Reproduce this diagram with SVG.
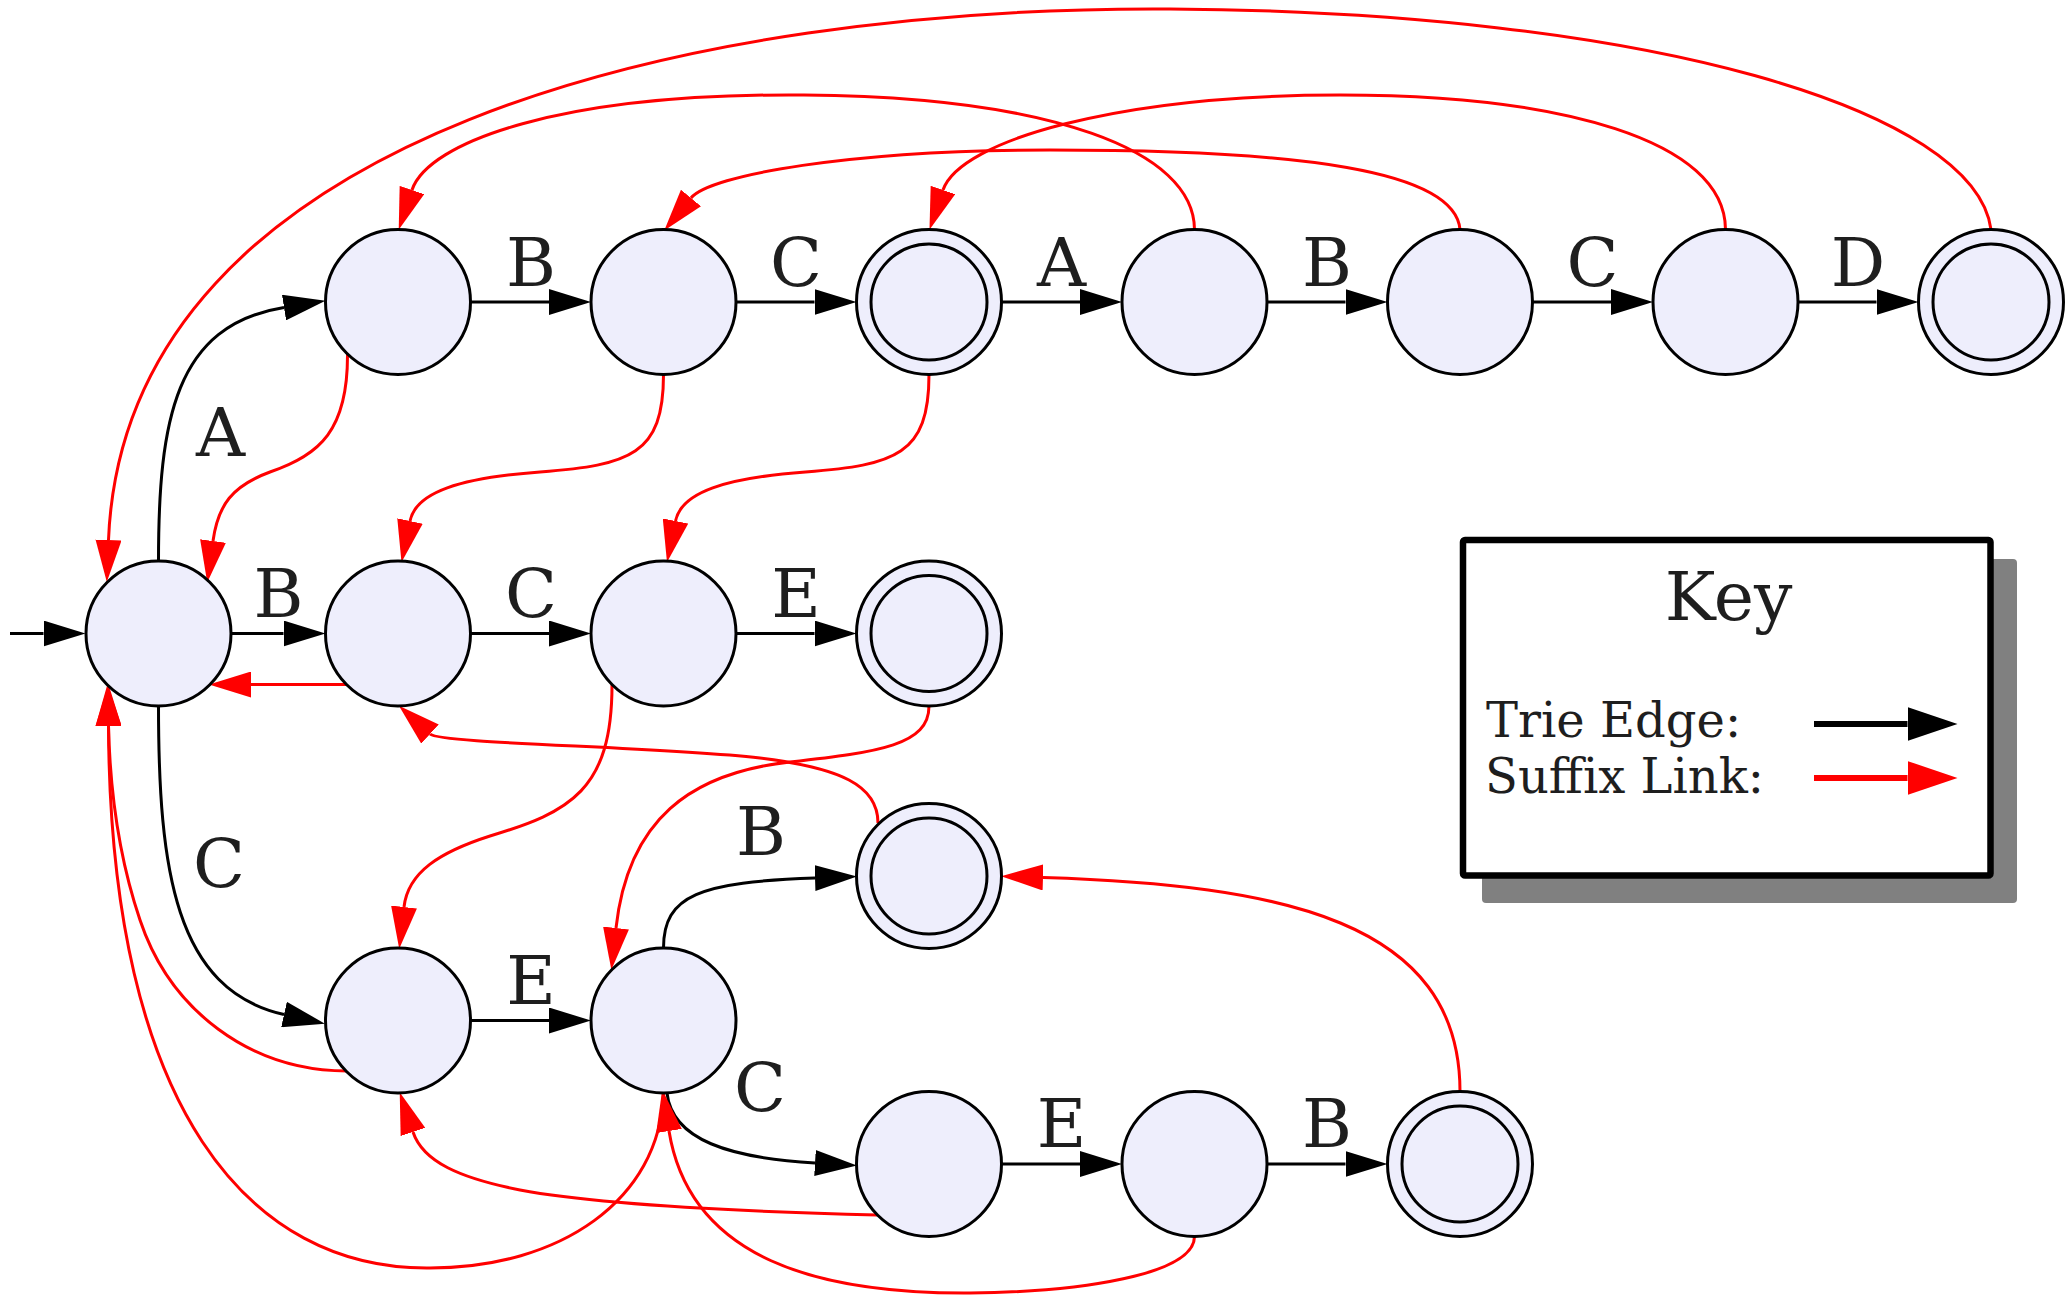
<svg xmlns="http://www.w3.org/2000/svg" width="2065" height="1296" viewBox="0 0 2065 1296">
<defs>
<style>
.nd{fill:#eeeefc;stroke:#000;stroke-width:3}
.in{fill:none;stroke:#000;stroke-width:3}
.tr{fill:none;stroke:#000;stroke-width:3;marker-end:url(#ab)}
.sf{fill:none;stroke:#f00;stroke-width:3;marker-end:url(#ar)}
.lb{font-family:"DejaVu Serif","Liberation Serif",serif;font-size:68px;text-anchor:middle;fill:#1e1e1e}
.kt{font-family:"DejaVu Serif","Liberation Serif",serif;font-size:48px;fill:#1e1e1e}
</style>
<marker id="ab" viewBox="0 0 42 26" refX="0" refY="13" markerWidth="42" markerHeight="26" markerUnits="userSpaceOnUse" orient="auto"><path d="M0,0L42,13L0,26z" fill="#000"/></marker>
<marker id="ar" viewBox="0 0 42 26" refX="0" refY="13" markerWidth="42" markerHeight="26" markerUnits="userSpaceOnUse" orient="auto"><path d="M0,0L42,13L0,26z" fill="#f00"/></marker>
<marker id="kb" viewBox="0 0 50 34" refX="0" refY="17" markerWidth="50" markerHeight="34" markerUnits="userSpaceOnUse" orient="auto"><path d="M0,0L50,17L0,34z" fill="#000"/></marker>
<marker id="kr" viewBox="0 0 50 34" refX="0" refY="17" markerWidth="50" markerHeight="34" markerUnits="userSpaceOnUse" orient="auto"><path d="M0,0L50,17L0,34z" fill="#f00"/></marker>
</defs>
<rect width="2065" height="1296" fill="#fff"/>

<g id="connectors">
<!-- trie edges -->
<path class="tr" d="M10,633.5H43.5"/>
<path class="tr" d="M231,633.5H283.5"/>
<path class="tr" d="M470.5,633.5H549"/>
<path class="tr" d="M736,633.5H814.5"/>
<path class="tr" d="M470.5,302H549"/>
<path class="tr" d="M736,302H814.5"/>
<path class="tr" d="M1001.5,302H1080"/>
<path class="tr" d="M1267,302H1345.5"/>
<path class="tr" d="M1532.5,302H1611"/>
<path class="tr" d="M1798,302H1876.5"/>
<path class="tr" d="M470.5,1020.5H549"/>
<path class="tr" d="M1001.5,1164H1080"/>
<path class="tr" d="M1267,1164H1345.5"/>
<path class="tr" d="M158.5,561C158.5,420 175,325 284,307.5"/>
<path class="tr" d="M158.5,706C158.5,870 175,990 284,1014.5"/>
<path class="tr" d="M663.5,948C663.5,895 700,882 815,878"/>
<path class="tr" d="M667,1093C672,1140 730,1158 815,1163"/>
<!-- suffix links -->
<path class="sf" d="M347.5,354C348,430 320,455 270,472C232,486 218,505 213,541"/>
<path class="sf" d="M1991,229.5C1975,110 1650,12 1170,9C700,6 125,130 108.5,540"/>
<path class="sf" d="M1194.5,229.5C1194,150 1050,97 804,95C560,93 428,142 412,190"/>
<path class="sf" d="M1460,229.5C1455,170 1300,150 1050,150C850,150 710,175 691,198"/>
<path class="sf" d="M1725.5,229.5C1725,140 1560,95 1340,95C1120,95 960,140 943,190"/>
<path class="sf" d="M663.5,374.5C663.5,455 630,465 540,472C460,478 416,492 410,521"/>
<path class="sf" d="M929,374.5C929,455 895.5,465 805.5,472C725.5,478 681.5,492 675.5,521"/>
<path class="sf" d="M346.5,684.5H251"/>
<path class="sf" d="M612,685C612,790 570,812 490,836C440,852 408,872 404,907"/>
<path class="sf" d="M929,706C929,745 880,752 790,762C690,773 628,820 616,928"/>
<path class="sf" d="M878,823C878,785 840,768 760,758C650,746 441,744 430,734"/>
<path class="sf" d="M1460,1091.5C1460,920 1280,885 1043,877.5"/>
<path class="sf" d="M877,1215C760,1212 600,1205 520,1190C460,1178 423,1162 413,1132"/>
<path class="sf" d="M1194.5,1236.5C1194,1275 1080,1292 970,1293C820,1294 690,1260 669,1131"/>
<path class="sf" d="M663.5,1093C660,1200 560,1268 430,1268C250,1270 110,1110 108.5,726"/>
<path class="sf" d="M347,1071C250,1071 170,1010 140,920C118,855 110,790 108.5,726"/>
</g>

<g id="labels">
<text class="lb" x="531" y="286">B</text>
<text class="lb" x="796" y="286">C</text>
<text class="lb" x="1061.5" y="286">A</text>
<text class="lb" x="1327" y="286">B</text>
<text class="lb" x="1592.5" y="286">C</text>
<text class="lb" x="1858" y="286">D</text>
<text class="lb" x="278.5" y="617">B</text>
<text class="lb" x="531" y="617">C</text>
<text class="lb" x="796" y="617">E</text>
<text class="lb" x="220.5" y="456">A</text>
<text class="lb" x="219" y="887">C</text>
<text class="lb" x="761" y="855">B</text>
<text class="lb" x="531" y="1004">E</text>
<text class="lb" x="760" y="1111">C</text>
<text class="lb" x="1061.5" y="1147">E</text>
<text class="lb" x="1327" y="1147">B</text>
</g>

<g id="n_root"><circle class="nd" cx="158.5" cy="633.5" r="72.5"/></g>
<g id="n_A"><circle class="nd" cx="398" cy="302" r="72.5"/></g>
<g id="n_AB"><circle class="nd" cx="663.5" cy="302" r="72.5"/></g>
<g id="n_ABC"><circle class="nd" cx="929" cy="302" r="72.5"/><circle class="in" cx="929" cy="302" r="58"/></g>
<g id="n_ABCA"><circle class="nd" cx="1194.5" cy="302" r="72.5"/></g>
<g id="n_ABCAB"><circle class="nd" cx="1460" cy="302" r="72.5"/></g>
<g id="n_ABCABC"><circle class="nd" cx="1725.5" cy="302" r="72.5"/></g>
<g id="n_ABCABCD"><circle class="nd" cx="1991" cy="302" r="72.5"/><circle class="in" cx="1991" cy="302" r="58"/></g>
<g id="n_B"><circle class="nd" cx="398" cy="633.5" r="72.5"/></g>
<g id="n_BC"><circle class="nd" cx="663.5" cy="633.5" r="72.5"/></g>
<g id="n_BCE"><circle class="nd" cx="929" cy="633.5" r="72.5"/><circle class="in" cx="929" cy="633.5" r="58"/></g>
<g id="n_CEB"><circle class="nd" cx="929" cy="876" r="72.5"/><circle class="in" cx="929" cy="876" r="58"/></g>
<g id="n_C"><circle class="nd" cx="398" cy="1020.5" r="72.5"/></g>
<g id="n_CE"><circle class="nd" cx="663.5" cy="1020.5" r="72.5"/></g>
<g id="n_CEC"><circle class="nd" cx="929" cy="1164" r="72.5"/></g>
<g id="n_CECE"><circle class="nd" cx="1194.5" cy="1164" r="72.5"/></g>
<g id="n_CECEB"><circle class="nd" cx="1460" cy="1164" r="72.5"/><circle class="in" cx="1460" cy="1164" r="58"/></g>

<g id="key">
<rect x="1482" y="559" width="535" height="344" rx="4" fill="#808080"/>
<rect x="1463" y="540" width="527.5" height="335.5" rx="2" fill="#fff" stroke="#000" stroke-width="6.5"/>
<text x="1728.5" y="620" font-family="DejaVu Serif, Liberation Serif, serif" font-size="68" text-anchor="middle" fill="#1e1e1e">Key</text>
<text class="kt" x="1486" y="737">Trie Edge:</text>
<text class="kt" x="1485" y="793">Suffix Link:</text>
<path d="M1814,724H1907.5" stroke="#000" stroke-width="6" marker-end="url(#kb)"/>
<path d="M1814,778H1907.5" stroke="#f00" stroke-width="6" marker-end="url(#kr)"/>
</g>
</svg>
